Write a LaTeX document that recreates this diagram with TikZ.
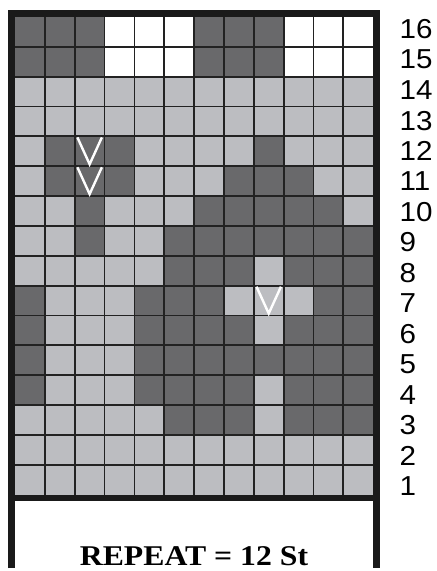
\documentclass[tikz,border=0pt]{standalone}
\usepackage{fontspec}
\setmainfont{Liberation Serif}
\newfontfamily\numfont{Liberation Sans}
\definecolor{dk}{HTML}{69696B}
\definecolor{lt}{HTML}{BCBDC1}
\definecolor{ln}{HTML}{222222}
\definecolor{fr}{HTML}{1A1A1A}
\begin{document}
\begin{tikzpicture}[x=1bp,y=-1bp,
  darkcell/.style={fill=dk},
  whitecell/.style={fill=white},
  gridline/.style={draw=ln,line width=1.8bp},
  framestroke/.style={draw=fr,line width=6.7bp},
  vmark/.style={draw=white,line width=2.4bp,line join=miter},
  rownum/.style={anchor=west,inner sep=0pt,font=\numfont\fontsize{27.5}{28}\selectfont},
  caption/.style={anchor=base,inner sep=0pt,font=\bfseries\fontsize{28.7}{30}\selectfont}]
\useasboundingbox (0,0) rectangle (437,571);
\fill[white] (0,0) rectangle (437,571);
\def\cs{29.85}
% light background of the grid
\fill[lt] (15,17) rectangle ({15+12*\cs},{17+16*\cs});
% white cells
\foreach \r in {16,15}{
  \foreach \c in {4,5,6,10,11,12}{
    \fill[whitecell] ({15+(\c-1)*\cs},{17+(16-\r)*\cs}) rectangle +(\cs,\cs);
  }
}
% dark cells
\foreach \r/\cols in {16/{1,2,3,7,8,9},15/{1,2,3,7,8,9},12/{2,3,4,9},11/{2,3,4,8,9,10},10/{3,7,8,9,10,11},9/{3,6,7,8,9,10,11,12},8/{6,7,8,10,11,12},7/{1,5,6,7,11,12},6/{1,5,6,7,8,10,11,12},5/{1,5,6,7,8,9,10,11,12},4/{1,5,6,7,8,10,11,12},3/{6,7,8,10,11,12}}{
  \foreach \c in \cols {
    \fill[darkcell] ({15+(\c-1)*\cs},{17+(16-\r)*\cs}) rectangle +(\cs,\cs);
  }
}
% grid lines
\foreach \i in {1,...,11}{
  \draw[gridline] ({15+\i*\cs},17) -- ++(0,{16*\cs});
}
\foreach \j in {1,...,15}{
  \draw[gridline] (15,{17+\j*\cs}) -- ++({12*\cs},0);
}
% V marks
\foreach \c/\r in {3/12,3/11,9/7}{
  \draw[vmark] ({15+(\c-0.5)*\cs-0.41*\cs},{17+(16-\r)*\cs+1})
     -- ({15+(\c-0.5)*\cs},{17+(17-\r)*\cs-2})
     -- ({15+(\c-0.5)*\cs+0.41*\cs},{17+(16-\r)*\cs+1});
}
% frame
\draw[framestroke,line join=miter] (11.65,568) -- (11.65,13.65) -- (376.35,13.65) -- (376.35,568);
\draw[framestroke] (11.65,498.1) -- (376.35,498.1);
% row numbers
\foreach \r in {1,...,16}{
  \node[rownum] (n\r) at (399.5,{486-(\r-1)*30.45}) {\scalebox{1.08}[1]{\r}};
}
% caption
\node[caption] (cap) at (194,565) {\scalebox{1.11}[1]{REPEAT = 12 St}};
\end{tikzpicture}
\end{document}
